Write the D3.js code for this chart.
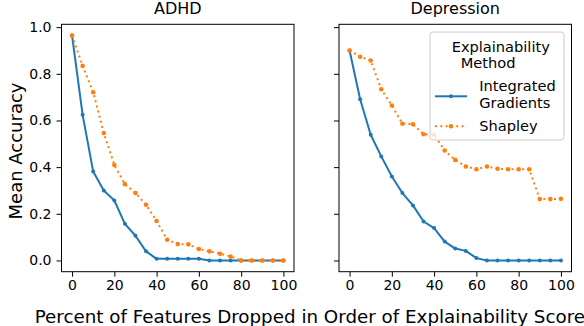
<!DOCTYPE html>
<html>
<head>
<meta charset="utf-8">
<script src="https://cdn.jsdelivr.net/npm/d3@7"></script>
<style>
  html, body { margin: 0; padding: 0; background: #fff; }
  svg { display: block; font-family: "DejaVu Sans", sans-serif; }
</style>
</head>
<body>
<svg id="chart" width="584" height="326"></svg>
<script>
// ---- data ----
const percentDropped = [0, 5, 10, 15, 20, 25, 30, 35, 40, 45, 50, 55, 60, 65, 70, 75, 80, 85, 90, 95, 100];
const panelTitles = ["ADHD", "Depression"];
const methods = ["Integrated\nGradients", "Shapley"];
const adhdIntegratedGradients = [0.964, 0.624, 0.381, 0.300, 0.257, 0.157, 0.106, 0.039, 0.007, 0.007, 0.007, 0.007, 0.007, 0, 0, 0, 0, 0, 0, 0, 0];
const adhdShapley = [0.964, 0.834, 0.721, 0.546, 0.409, 0.327, 0.289, 0.239, 0.169, 0.089, 0.070, 0.069, 0.049, 0.039, 0.029, 0.017, 0, 0, 0, 0, 0];
const depressionIntegratedGradients = [0.900, 0.691, 0.539, 0.446, 0.360, 0.289, 0.236, 0.167, 0.139, 0.081, 0.051, 0.041, 0.010, 0, 0, 0, 0, 0, 0, 0, 0];
const depressionShapley = [0.900, 0.873, 0.857, 0.734, 0.664, 0.586, 0.584, 0.541, 0.539, 0.471, 0.431, 0.403, 0.391, 0.403, 0.393, 0.391, 0.391, 0.391, 0.263, 0.263, 0.264];
const xTicks = [0, 20, 40, 60, 80, 100];
const yTicks = [0.0, 0.2, 0.4, 0.6, 0.8, 1.0];

const panels = [
  { title: panelTitles[0], ig: adhdIntegratedGradients, sh: adhdShapley },
  { title: panelTitles[1], ig: depressionIntegratedGradients, sh: depressionShapley }
];

const colors = { ig: "#1f77b4", sh: "#ff7f0e" };
const svg = d3.select("#chart");

// layout
const panelX = [[61.5, 294], [339, 571.5]];
const plotTop = 24.3, plotBottom = 271.7;

// matplotlib-like margins
const allVals = panels.flatMap(p => p.ig.concat(p.sh));
const yMin = d3.min(allVals), yMax = d3.max(allVals);
const yPad = (yMax - yMin) * 0.05;
const xMinD = d3.min(percentDropped), xMaxD = d3.max(percentDropped);
const xPad = (xMaxD - xMinD) * 0.05;

const y = d3.scaleLinear().domain([yMin - yPad, yMax + yPad]).range([plotBottom, plotTop]);

panels.forEach((p, i) => {
  const [x0, x1] = panelX[i];
  const x = d3.scaleLinear().domain([xMinD - xPad, xMaxD + xPad]).range([x0, x1]);
  const g = svg.append("g");

  // x axis
  const xAxis = g.append("g")
    .attr("transform", `translate(0,${plotBottom})`)
    .call(d3.axisBottom(x).tickValues(xTicks).tickSize(5).tickPadding(3.5).tickFormat(d3.format("d")));
  xAxis.select(".domain").remove();
  xAxis.selectAll("text").attr("font-size", 14).attr("fill", "#000").attr("font-family", "DejaVu Sans");
  xAxis.selectAll("line").attr("stroke", "#000").attr("stroke-width", 1);

  // y axis
  const yAxis = g.append("g")
    .attr("transform", `translate(${x0},0)`)
    .call(d3.axisLeft(y).tickValues(yTicks).tickSize(5).tickPadding(5).tickFormat(i === 0 ? d3.format(".1f") : () => ""));
  yAxis.select(".domain").remove();
  yAxis.selectAll("text").attr("font-size", 14).attr("fill", "#000").attr("font-family", "DejaVu Sans");
  yAxis.selectAll("line").attr("stroke", "#000").attr("stroke-width", 1);

  // lines
  const line = vals => d3.line().x((d, j) => x(percentDropped[j])).y(d => y(d))(vals);

  g.append("path").attr("d", line(p.ig)).attr("fill", "none")
    .attr("stroke", colors.ig).attr("stroke-width", 2).attr("stroke-linejoin", "round");
  g.selectAll(".igpt").data(p.ig).enter().append("circle")
    .attr("cx", (d, j) => x(percentDropped[j])).attr("cy", d => y(d)).attr("r", 2).attr("fill", colors.ig);

  g.append("path").attr("d", line(p.sh)).attr("fill", "none")
    .attr("stroke", colors.sh).attr("stroke-width", 2).attr("stroke-dasharray", "2,3.3");
  g.selectAll(".shpt").data(p.sh).enter().append("circle")
    .attr("cx", (d, j) => x(percentDropped[j])).attr("cy", d => y(d)).attr("r", 2.3).attr("fill", colors.sh);

  // frame
  g.append("rect").attr("x", x0).attr("y", plotTop).attr("width", x1 - x0).attr("height", plotBottom - plotTop)
    .attr("fill", "none").attr("stroke", "#000").attr("stroke-width", 1);

  // title
  g.append("text").attr("x", (x0 + x1) / 2).attr("y", 14).attr("text-anchor", "middle")
    .attr("font-size", 16).attr("fill", "#000").text(p.title);
});

// axis labels
svg.append("text").attr("transform", "translate(22,151) rotate(-90)").attr("text-anchor", "middle")
  .attr("font-size", 18).attr("fill", "#000").text("Mean Accuracy");
svg.append("text").attr("x", 34.7).attr("y", 323.3).attr("text-anchor", "start")
  .attr("font-size", 18.3).attr("fill", "#000").text("Percent of Features Dropped in Order of Explainability Score");

// legend
const lg = svg.append("g");
lg.append("rect").attr("x", 430).attr("y", 32).attr("width", 134).attr("height", 108).attr("rx", 3)
  .attr("fill", "#fff").attr("fill-opacity", 0.8).attr("stroke", "#cccccc").attr("stroke-width", 1);
const lfs = 14.6;
lg.append("text").attr("x", 451.7).attr("y", 52).attr("font-size", lfs).text("Explainability");
lg.append("text").attr("x", 460.7).attr("y", 67.5).attr("font-size", lfs).text("Method");

const igLines = methods[0].split("\n");
lg.append("text").attr("x", 479.3).attr("y", 91.3).attr("font-size", lfs).text(igLines[0]);
lg.append("text").attr("x", 479.3).attr("y", 108).attr("font-size", lfs).text(igLines[1]);
lg.append("text").attr("x", 479.3).attr("y", 131.3).attr("font-size", lfs).text(methods[1]);

lg.append("line").attr("x1", 435).attr("x2", 467).attr("y1", 96.3).attr("y2", 96.3)
  .attr("stroke", colors.ig).attr("stroke-width", 2);
lg.append("circle").attr("cx", 451).attr("cy", 96.3).attr("r", 2).attr("fill", colors.ig);
lg.append("line").attr("x1", 435).attr("x2", 467).attr("y1", 126.3).attr("y2", 126.3)
  .attr("stroke", colors.sh).attr("stroke-width", 2).attr("stroke-dasharray", "2,3.3");
lg.append("circle").attr("cx", 451).attr("cy", 126.3).attr("r", 2.3).attr("fill", colors.sh);
</script>
</body>
</html>
